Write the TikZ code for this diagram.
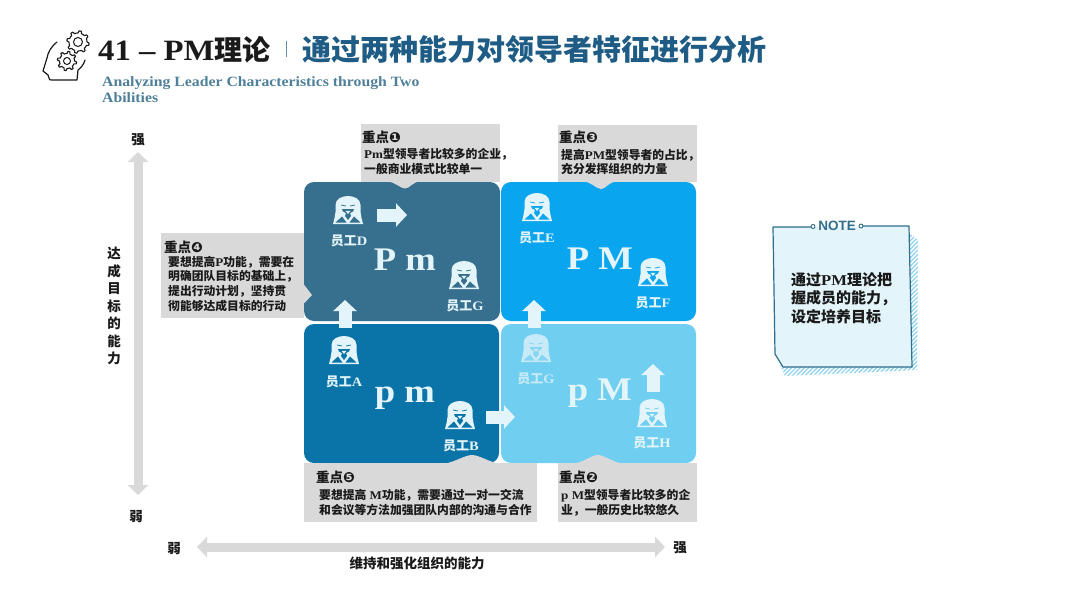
\documentclass[tikz,border=0pt]{standalone}
\usepackage{fontspec}
\setmainfont{Liberation Serif}[FakeStretch=1.11]
\newfontfamily\cjkf{Noto Sans CJK SC}
\newfontfamily\symf{DejaVu Sans}
\newfontfamily\notef{Liberation Sans}
\usetikzlibrary{arrows.meta,patterns.meta}
\newcommand{\cn}[1]{{\cjkf\bfseries #1}}
\newcommand{\fz}[2]{\fontsize{#1}{#2}\selectfont\bfseries}
\newcommand{\hd}[1]{\cn{重点}{\symf\fontsize{14}{15}\selectfont #1}}
\definecolor{cPm}{HTML}{376F8F}
\definecolor{cPM}{HTML}{0AA5EF}
\definecolor{cpm}{HTML}{0A74A8}
\definecolor{cpM}{HTML}{70CFF1}
\definecolor{cGray}{HTML}{D9D9D9}
\definecolor{cPale}{HTML}{E3F4FA}
\definecolor{cTitle}{HTML}{1F5C85}
\definecolor{cSub}{HTML}{4F8099}
\definecolor{cInk}{HTML}{1A1A1A}
\definecolor{cNote}{HTML}{2F6E8C}
\definecolor{cHatch}{HTML}{8FD3EE}
\tikzset{
  quad/.style={rectangle,rounded corners=10pt,minimum width=#1,minimum height=139pt,inner sep=0,outer sep=0},
  callout/.style={rectangle,fill=cGray,inner sep=0,outer sep=0},
  head/.style={anchor=west,inner sep=0,text=cInk,font=\fz{13.5}{15}},
  body/.style={anchor=north west,inner sep=0,align=left,text=cInk,font=\fz{11.8}{14.6}},
  letters/.style={anchor=base,inner sep=0,text=cPale,font=\fz{33}{36}},
  who/.style={inner sep=0,text=cPale,font=\fz{13}{15}},
  axislabel/.style={inner sep=0,text=cInk,font=\fz{13.5}{15}},
  axisline/.style={line width=9pt,draw=cGray,{Triangle[width=20pt,length=10pt]}-{Triangle[width=20pt,length=10pt]},shorten <=0pt,shorten >=0pt},
  move/.style={line width=13pt,draw=cPale,-{Triangle[width=23pt,length=11pt]}},
  pics/person/.style={code={
    \fill[cPale] (-15,14) -- (-13.5,8) -- (-12.5,2) -- (-12.5,-5) .. controls (-12.5,-11) and (-6,-14) .. (0,-14)
      .. controls (6,-14) and (12.5,-11) .. (12.5,-5) -- (12.5,2) -- (13.5,8) -- (15,14) -- cycle;
    \fill[#1] (-12.5,12.5) -- (-6,6.5) -- (-1.5,12.5) -- cycle;
    \fill[#1] (12.5,12.5) -- (6,6.5) -- (1.5,12.5) -- cycle;
    \fill[#1] (-6,-1) -- (6,-1) -- (5,1.5) -- (2,3) -- (3,6) -- (0,10) -- (-3,6) -- (-2,3) -- (-5,1.5) -- cycle;
    \draw[#1,line width=.7pt] (-7,-5) -- (-2,-4) (2,-4) -- (7,-5);
    \fill[cPale] (-2.5,.8) -- (2.5,.8) -- (0,4) -- cycle;
  }},
  gearout/.style={draw=cInk,line width=1.1pt,fill=white,line join=round}
}
\begin{document}
\begin{tikzpicture}[x=1pt,y=-1pt]
\useasboundingbox (0,0) rectangle (1080,608);
\fill[white] (0,0) rectangle (1080,608);

% title icon
\draw[draw=cInk,line width=1.2pt,line cap=round,line join=round]
  (57,42) .. controls (51,47) and (48,52) .. (47,58) -- (43,71) -- (48,75) -- (49,78)
  .. controls (49,80) and (50,80) .. (52,80) -- (77,80) -- (78,70) .. controls (81,68) and (84,64) .. (85,60);
\begin{scope}[shift={(67,61)}]
  \draw[gearout] plot[samples=65,domain=0:360] (\x:{7.5+2.2*(sin(8*\x)>0)}) -- cycle;
  \draw[draw=cInk,line width=1pt] (0,0) circle (3.5);
\end{scope}
\begin{scope}[shift={(78,42)}]
  \draw[gearout] plot[samples=65,domain=0:360] (\x:{9+2.2*(sin(8*\x)>0)}) -- cycle;
  \draw[draw=cInk,line width=1pt] (0,0) circle (4.5);
\end{scope}

% title
\node[anchor=base west,inner sep=0,text=cInk,font=\fz{29.5}{32}] (t1) at (98,60) {41 – PM\cn{\fontsize{28}{30}\selectfont 理论}};
\coordinate (barA) at (286,41);
\coordinate (barB) at (286,57);
\draw[cTitle!70,line width=1pt] (barA) -- (barB);
\node[anchor=base west,inner sep=0,text=cTitle,font=\fz{29}{32}] (t2) at (302,60) {\cn{通过两种能力对领导者特征进行分析}};
\node[anchor=north west,inner sep=0,align=left,text=cSub,font=\fz{14.2}{16}] (t3) at (102,76) {Analyzing Leader Characteristics through Two\\Abilities};

% quadrants
\node[quad=196pt,fill=cPm] (qPm) at (402,251.5) {};
\node[quad=195pt,fill=cPM] (qPM) at (598.5,251.5) {};
\node[quad=195pt,fill=cpm] (qpm) at (401.5,393.5) {};
\node[quad=195pt,fill=cpM] (qpM) at (598.5,393.5) {};

% callouts
\node[callout,minimum width=139pt,minimum height=58pt] (c1) at (430.5,153) {};
\node[callout,minimum width=139pt,minimum height=57pt] (c3) at (627.5,153.5) {};
\node[callout,minimum width=143pt,minimum height=85pt] (c4) at (232.5,275.5) {};
\node[callout,minimum width=233pt,minimum height=59pt] (c5) at (420.5,492.5) {};
\node[callout,minimum width=139pt,minimum height=59pt] (c2) at (627.5,492.5) {};
% callout pointers
\fill[cGray] (387,181.5) .. controls (396,182) and (400,188.5) .. (405,188.5) .. controls (410,188.5) and (412,182) .. (420,181.5) -- cycle;
\fill[cGray] (583,181.5) .. controls (592,182) and (596,189) .. (601,189) .. controls (606,189) and (608,182) .. (617,181.5) -- cycle;
\fill[cGray] (303.5,284) -- (312,295) -- (303.5,304) -- cycle;
\fill[cGray] (445,463.5) .. controls (455,462) and (465,455) .. (472,455) .. controls (479,455) and (489,462) .. (499,463.5) -- cycle;
\fill[cGray] (574,463.5) .. controls (584,462) and (592,455) .. (598,455) .. controls (604,455) and (612,462) .. (622,463.5) -- cycle;

% callout text
\node[head] (h1) at (362,137) {\hd{❶}};
\node[body] (b1) at (364,148) {Pm\cn{型领导者比较多的企业，}\\\cn{一般商业模式比较单一}};
\node[head] (h3) at (559,137) {\hd{❸}};
\node[body] (b3) at (561,149) {\cn{提高}PM\cn{型领导者的占比，}\\\cn{充分发挥组织的力量}};
\node[head] (h4) at (164,247) {\hd{❹}};
\node[body] (b4) at (168,256) {\cn{要想提高}P\cn{功能，需要在}\\\cn{明确团队目标的基础上，}\\\cn{提出行动计划，坚持贯}\\\cn{彻能够达成目标的行动}};
\node[head] (h5) at (316,477) {\hd{❺}};
\node[body] (b5) at (319,489) {\cn{要想提高} M\cn{功能，需要通过一对一交流}\\\cn{和会议等方法加强团队内部的沟通与合作}};
\node[head] (h2) at (559,477) {\hd{❷}};
\node[body] (b2) at (561,489) {p M\cn{型领导者比较多的企}\\\cn{业，一般历史比较悠久}};

% letters
\node[letters] (lPm) at (405,270) {P m};
\node[letters] (lPM) at (600,269) {P M};
\node[letters] (lpm) at (405,402) {p m};
\node[letters] (lpM) at (600,400) {p M};

% staff
\pic at (348,210) {person=cPm};
\node[who] (nD) at (349,241) {\cn{员工}D};
\pic at (464,275) {person=cPm};
\node[who] (nG) at (465,306) {\cn{员工}G};
\pic at (537,207) {person=cPM};
\node[who] (nE) at (537,238) {\cn{员工}E};
\pic at (653,272) {person=cPM};
\node[who] (nF) at (653,303) {\cn{员工}F};
\pic at (344,350) {person=cpm};
\node[who] (nA) at (344,382) {\cn{员工}A};
\pic at (460,415) {person=cpm};
\node[who] (nB) at (461,446) {\cn{员工}B};
\pic[opacity=.75] at (536,348) {person=cpM};
\node[who,text opacity=.75] (nG2) at (536,379) {\cn{员工}G};
\pic at (652,413) {person=cpM};
\node[who] (nH) at (652,443) {\cn{员工}H};

% movement arrows
\coordinate (m1a) at (377,215); \coordinate (m1b) at (407,215);
\draw[move] (m1a) -- (m1b);
\coordinate (m2a) at (345,328); \coordinate (m2b) at (345,300);
\draw[move] (m2a) -- (m2b);
\coordinate (m3a) at (534,328); \coordinate (m3b) at (534,300);
\draw[move] (m3a) -- (m3b);
\coordinate (m4a) at (486,417); \coordinate (m4b) at (515,417);
\draw[move] (m4a) -- (m4b);
\coordinate (m5a) at (653,392); \coordinate (m5b) at (653,364);
\draw[move] (m5a) -- (m5b);

% axes
\coordinate (yA) at (138,495); \coordinate (yB) at (138,152);
\draw[axisline] (yA) -- (yB);
\coordinate (xA) at (197,547); \coordinate (xB) at (665,547);
\draw[axisline] (xA) -- (xB);
\node[axislabel] (ys) at (138,140) {\cn{强}};
\node[axislabel] (yw) at (136,517) {\cn{弱}};
\node[axislabel] (xw) at (174,549) {\cn{弱}};
\node[axislabel] (xs) at (680,548) {\cn{强}};
\node[axislabel,align=center,font=\fz{13.5}{17.5}] (yl) at (114,306) {\cn{达}\\\cn{成}\\\cn{目}\\\cn{标}\\\cn{的}\\\cn{能}\\\cn{力}};
\node[axislabel] (xl) at (417,563) {\cn{维持和强化组织的能力}};

% note
\fill[pattern={Lines[angle=45,distance=3pt,line width=1.3pt]},pattern color=cHatch]
  (908,232) -- (918,240) -- (917,370) -- (785,376) -- (780,365) -- (908,365) -- cycle;
\fill[cPale] (773,227) -- (909,226) -- (912,367) -- (783,367) -- (775,354) -- cycle;
\draw[cNote,line width=1.2pt,line join=round] (812,227) -- (773,227) -- (775,354) -- (783,367) -- (912,367) -- (909,226) -- (862,226);
\draw[cNote,line width=.9pt,fill=white] (813,226.5) circle (2);
\draw[cNote,line width=.9pt,fill=white] (861,226) circle (2);
\node[inner sep=0,text=cNote,font=\notef\fz{13.5}{15}] (ntitle) at (837,226) {NOTE};
\node[anchor=north west,inner sep=0,align=left,text=cInk,font=\fz{15}{18.5}] (ntext) at (791,272) {\cn{通过}PM\cn{理论把}\\\cn{握成员的能力，}\\\cn{设定培养目标}};
\end{tikzpicture}
\end{document}
